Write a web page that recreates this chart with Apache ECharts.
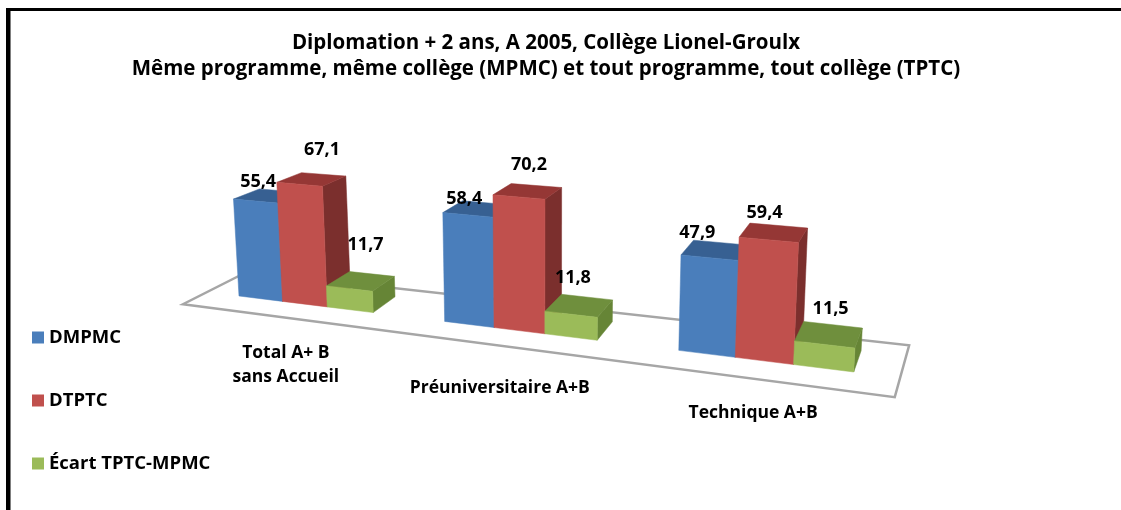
<!DOCTYPE html>
<html><head><meta charset="utf-8">
<style>html,body{margin:0;padding:0;background:#fff}#c{width:1121px;height:510px}</style>
<script src="https://cdn.jsdelivr.net/npm/echarts@6/dist/echarts.min.js"></script>
</head><body><div id="c"></div>
<script>
const categories = ['Total A+ B\nsans Accueil', 'Préuniversitaire A+B', 'Technique A+B'];
const seriesNames = ['DMPMC', 'DTPTC', 'Écart TPTC-MPMC'];
const dmpmc = [55.4, 58.4, 47.9];
const dtptc = [67.1, 70.2, 59.4];
const ecart = [11.7, 11.8, 11.5];
const titleText = 'Diplomation + 2 ans, A 2005, Collège Lionel-Groulx\nMême programme, même collège (MPMC) et tout programme, tout collège (TPTC)';

const FONT = '"Open Sans", sans-serif';
const palettes = [
  {front:'#4a7ebb', top:'#376092', side:'#2f5580'},
  {front:'#c0504d', top:'#953735', side:'#7b2f2d'},
  {front:'#9bbb59', top:'#6f8f3d', side:'#668536'}
];
const labelNudges = [
  [[-10,-14.5],[-13,-10],[-18,-17.5]],
  [[10.5,-29.5],[1.5,-26],[-9,-20]],
  [[5,-36],[-6,-28],[2,-26]]
];
const catNudges = [[5,45.5],[-2,39.5],[-1,32]];

/* pseudo-3D view applied to the pixels the cartesian axes return */
const UNIT = 39.7, ORIGIN = 239, PERSP = 0.0135;
function projector(cs) {
  const base = cs.y + cs.height;
  const PX_PER_VAL = cs.height / 80;
  return function (px, py, d) {
    const u = (px - ORIGIN) / UNIT, w = 1 - PERSP * u, rise = base - py, h = rise / PX_PER_VAL;
    let x = px / w;
    let y = (296 + 1.31 * u - rise) / w;
    x += (x - 540) * 0.00033 * h;
    x += d * (1100 - x) * 0.03;
    y -= d * (14 + 0.6 * u) * (1 - 0.005 * h);
    return [x, y];
  };
}
function face(pts, fill) {
  return {type:'polygon', shape:{points:pts}, style:{fill:fill, stroke:fill, lineWidth:0.5}};
}
function barRenderer(si) {
  return function (params, api) {
    const P = projector(params.coordSys);
    const cat = api.value(0), val = api.value(1);
    const base = api.coord([cat, 0]), top = api.coord([cat, val]);
    const band = api.size([1, 0])[0], bw = band / 4.5;
    const x0 = base[0] - 1.5 * bw + si * bw, x1 = x0 + bw;
    const by = base[1], ty = top[1], c = palettes[si];
    const a = P(x0, by, 0), b = P(x1, by, 0), t0 = P(x0, ty, 0), t1 = P(x1, ty, 0);
    const b1k = P(x1, by, 1), t1k = P(x1, ty, 1), t0k = P(x0, ty, 1);
    const lab = P((x0 + x1) / 2, ty, 0.5), n = labelNudges[si][cat];
    return {type:'group', children:[
      face([b, b1k, t1k, t1], c.side),
      face([t0, t1, t1k, t0k], c.top),
      face([a, b, t1, t0], c.front),
      {type:'text', z2:10, style:{x:lab[0]+n[0], y:lab[1]+n[1], text:String(val).replace('.', ','),
        fill:'#000', font:'bold 18px '+FONT, align:'center', verticalAlign:'middle'}}
    ]};
  };
}
function floorRenderer(params) {
  const P = projector(params.coordSys), cs = params.coordSys, base = cs.y + cs.height;
  const l = cs.x, r = cs.x + cs.width;
  return {type:'polygon', shape:{points:[P(l,base,-0.9), P(r,base,-0.9), P(r,base,1.5), P(l,base,1.5)]},
    style:{fill:'#fff', stroke:'#a6a6a6', lineWidth:2.5}};
}
function catRenderer(params, api) {
  const P = projector(params.coordSys), i = api.value(0), c = api.coord([i, 0]);
  const p = P(c[0], c[1], -1), n = catNudges[i];
  return {type:'text', style:{x:p[0]+n[0], y:p[1]+n[1], text:categories[i], fill:'#000',
    font:'bold 17.5px '+FONT, lineHeight:24, align:'center', verticalAlign:'middle'}};
}

const values = [dmpmc, dtptc, ecart];
const chart = echarts.init(document.getElementById('c'), null, {renderer:'canvas'});
chart.setOption({
  animation:false,
  backgroundColor:'#fff',
  title:{text:titleText, left:541, top:25, textAlign:'center',
    textStyle:{fontFamily:FONT, fontSize:20.5, fontWeight:'bold', color:'#000', lineHeight:26}},
  legend:{orient:'vertical', left:27, top:323, itemWidth:12, itemHeight:12, itemGap:44, icon:'rect',
    data:seriesNames, selectedMode:false,
    textStyle:{fontFamily:FONT, fontSize:18.5, fontWeight:'bold', color:'#000', lineHeight:17}, itemStyle:{borderWidth:0}},
  grid:{left:209.2, width:536, top:100, height:140},
  xAxis:{type:'category', data:categories, show:false},
  yAxis:{type:'value', min:0, max:80, show:false},
  graphic:[
    {type:'rect', shape:{x:6,y:8,width:4.5,height:502}, style:{fill:'#000'}},
    {type:'rect', shape:{x:6,y:8,width:1115,height:3}, style:{fill:'#000'}}
  ],
  series:[
    {type:'custom', name:'floor', renderItem:floorRenderer, data:[[0,0]], clip:false, z:1, silent:true},
    {type:'custom', name:'cats', renderItem:catRenderer, data:[[0,0],[1,0],[2,0]], clip:false, z:1, silent:true}
  ].concat(seriesNames.map((nm,si)=>({
    type:'custom', name:nm, renderItem:barRenderer(si), clip:false, z:2+si,
    itemStyle:{color:palettes[si].front},
    encode:{x:0,y:1},
    data:values[si].map((v,i)=>[i,v])
  })))
});
</script></body></html>
